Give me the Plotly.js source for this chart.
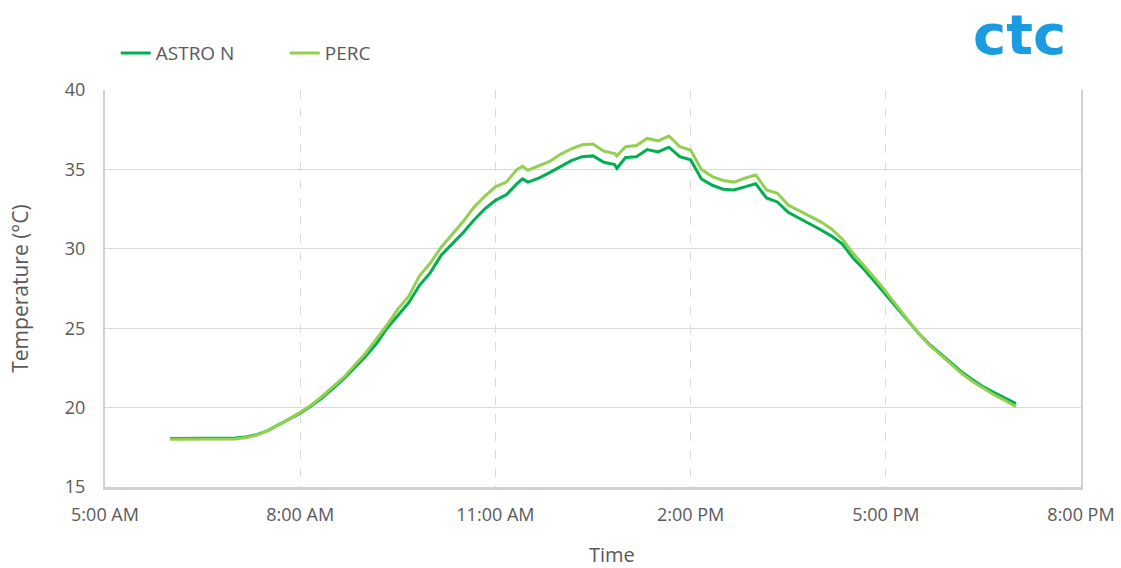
<!DOCTYPE html>
<html>
<head>
<meta charset="utf-8">
<script src="https://cdn.plot.ly/plotly-3.0.1.min.js"></script>
<style>html,body{margin:0;padding:0;background:#fff;}#chart{width:1121px;height:568px;}</style>
</head>
<body>
<div id="chart"></div>
<script>
var DAY = '2023-06-21 ';
var times = ['06:00','06:10','06:20','06:30','06:40','06:50','07:00','07:10','07:20','07:30','07:40','07:50',
  '08:00','08:10','08:20','08:30','08:40','08:50','09:00','09:10','09:20','09:30','09:40','09:50',
  '10:00','10:10','10:20','10:30','10:40','10:50','11:00','11:10','11:20','11:25','11:30','11:40','11:50',
  '12:00','12:10','12:20','12:30','12:40','12:50','12:52','13:00','13:10','13:20','13:30','13:40','13:50',
  '14:00','14:10','14:20','14:30','14:40','14:50','15:00','15:10','15:20','15:30','15:40','15:50',
  '16:00','16:10','16:20','16:30','16:40','16:50','17:00','17:10','17:20','17:30','17:40','17:50',
  '18:00','18:10','18:20','18:30','18:40','18:50','19:00'];
var astroN = [18.05,18.05,18.07,18.06,18.05,18.04,18.08,18.15,18.3,18.55,18.9,19.3,
  19.65,20.1,20.6,21.2,21.8,22.5,23.2,24.0,25.0,25.8,26.6,27.7,
  28.5,29.6,30.3,31.0,31.8,32.5,33.05,33.4,34.1,34.4,34.2,34.45,34.8,
  35.15,35.55,35.8,35.85,35.45,35.3,35.07,35.75,35.8,36.25,36.1,36.4,35.8,
  35.6,34.4,34.0,33.75,33.7,33.9,34.1,33.2,32.95,32.3,31.95,31.6,
  31.2,30.8,30.3,29.4,28.7,27.9,27.1,26.3,25.5,24.7,24.0,23.4,
  22.8,22.25,21.75,21.3,20.95,20.6,20.25];
var perc = [18.0,18.0,18.02,18.0,17.99,17.98,18.02,18.1,18.27,18.55,18.9,19.3,
  19.7,20.15,20.7,21.3,21.9,22.65,23.4,24.3,25.2,26.2,27.0,28.3,
  29.1,30.1,30.9,31.7,32.6,33.3,33.9,34.2,35.0,35.2,34.95,35.2,35.5,
  35.95,36.3,36.55,36.6,36.15,36.0,35.84,36.43,36.5,36.95,36.8,37.1,36.43,
  36.22,35.0,34.55,34.3,34.2,34.45,34.65,33.7,33.5,32.75,32.4,32.1,
  31.7,31.25,30.6,29.7,28.95,28.15,27.3,26.4,25.55,24.7,23.95,23.35,
  22.75,22.15,21.65,21.2,20.8,20.45,20.05];
var seriesNames = ['ASTRO N', 'PERC'];
var yTicks = [15, 20, 25, 30, 35, 40];

var x = times.map(function(t){ return DAY + t; });
var font = "'Open Sans', 'Noto Sans', sans-serif";
var traces = [
  {x: x, y: astroN, name: seriesNames[0], type: 'scatter', mode: 'lines',
   line: {color: '#00b050', width: 3}},
  {x: x, y: perc, name: seriesNames[1], type: 'scatter', mode: 'lines',
   line: {color: '#92d050', width: 3}}
];
var layout = {
  width: 1121, height: 568,
  margin: {l: 105, r: 40, t: 90, b: 81},
  paper_bgcolor: '#ffffff', plot_bgcolor: '#ffffff',
  font: {family: font, color: '#595959', size: 18},
  showlegend: true,
  legend: {orientation: 'h', x: 0.011, y: 1.093, xanchor: 'left', yanchor: 'middle',
    font: {size: 19, color: '#595959'}, entrywidth: 124, entrywidthmode: 'pixels'},
  xaxis: {
    type: 'date',
    range: [DAY + '05:00', DAY + '20:00'],
    tick0: DAY + '05:00', dtick: 3 * 3600000,
    tickformat: '%-I:%M %p',
    showgrid: true, gridcolor: '#d9d9d9', griddash: 'dash', gridwidth: 1,
    showline: true, linecolor: '#d0d0d0', linewidth: 3,
    ticks: '', ticklabelstandoff: 9,
    zeroline: false
  },
  yaxis: {
    range: [15, 40], tickvals: yTicks,
    showgrid: true, gridcolor: '#d9d9d9', gridwidth: 1,
    showline: true, linecolor: '#d0d0d0', linewidth: 2, mirror: true,
    ticks: '', ticklabelstandoff: 14,
    zeroline: false,
    title: {text: 'Temperature (°C)', font: {size: 21, color: '#595959'}, standoff: 30}
  },
  annotations: [{
    xref: 'paper', yref: 'paper', x: 0.937, y: 1.139, xanchor: 'center', yanchor: 'middle',
    text: '<b>ctc</b>', showarrow: false,
    font: {family: "'DejaVu Sans', sans-serif", size: 56, color: '#1b9ce2'}
  }, {
    xref: 'paper', yref: 'paper', x: 0.519, y: -0.171, xanchor: 'center', yanchor: 'middle',
    text: 'Time', showarrow: false,
    font: {size: 20, color: '#595959'}
  }]
};
Plotly.newPlot('chart', traces, layout, {displayModeBar: false, staticPlot: true});
</script>
</body>
</html>
